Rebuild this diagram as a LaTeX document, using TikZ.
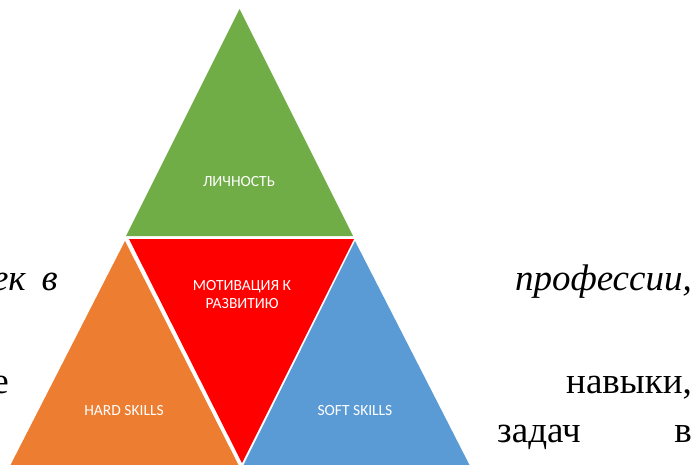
\documentclass[tikz,border=0pt]{standalone}
\usepackage{fontspec}
\setmainfont{Liberation Serif}
\newfontfamily\calib{Carlito}
\definecolor{pgreen}{HTML}{70AD47}
\definecolor{pred}{HTML}{FF0000}
\definecolor{porange}{HTML}{ED7D31}
\definecolor{pblue}{HTML}{5B9BD5}
\begin{document}
\begin{tikzpicture}[x=1pt,y=-1pt,
  bodytext/.style={font=\fontsize{37}{44}\selectfont, inner sep=0pt, text=black},
  tri/.style={draw=none},
  lbl/.style={font=\calib\fontsize{15.5}{18}\selectfont, text=white, inner sep=0pt, align=center}]
\useasboundingbox (0,0) rectangle (693,464);
\clip (0,0) rectangle (693,464);
% background text lines
\node[bodytext, font=\fontsize{37}{44}\selectfont\itshape, anchor=base east] (t1) at (58,290) {ек\hspace{16pt}в};
\node[bodytext, font=\fontsize{37}{44}\selectfont\itshape, anchor=base east] (t2) at (692,290) {профессии,};
\node[bodytext, anchor=base east] (t3) at (9,393) {е};
\node[bodytext, anchor=base east] (t4) at (692,393) {навыки,};
\node[bodytext, anchor=base west] (t5) at (497,442) {задач};
\node[bodytext, anchor=base east] (t6) at (692,442) {в};
% triangles
\fill[pgreen] (239.5,9) -- (353,236) -- (126,236) -- cycle;
\fill[pred] (129,239) -- (354,239) -- (242,463) -- cycle;
\fill[porange] (125,241) -- (238.5,465) -- (10.5,465) -- cycle;
\fill[pblue] (355,241) -- (469.5,465) -- (243.5,465) -- cycle;
% labels
\node[lbl, anchor=base] (lich) at (239,186) {ЛИЧНОСТЬ};
\node[lbl, anchor=center] (motiv) at (242,295) {МОТИВАЦИЯ К\\РАЗВИТИЮ};
\node[lbl, anchor=base] (hard) at (124,415) {HARD SKILLS};
\node[lbl, anchor=base] (soft) at (355,415) {SOFT SKILLS};
\end{tikzpicture}
\end{document}
